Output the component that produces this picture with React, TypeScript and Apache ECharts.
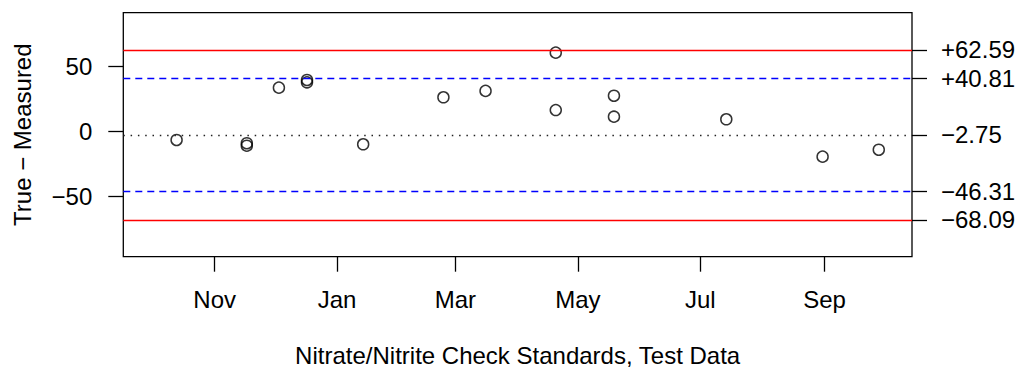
import React, { useEffect, useRef } from "react";
import * as echarts from "echarts";

const sampleDates = [
  "2010-10-13", "2010-11-17", "2010-11-17", "2010-12-03", "2010-12-17", "2010-12-17",
  "2011-01-14", "2011-02-23", "2011-03-16", "2011-04-20", "2011-04-20", "2011-05-19",
  "2011-05-19", "2011-07-14", "2011-08-31", "2011-09-28",
];
const differences = [
  -6.6, -9.1, -11.0, 33.6, 39.5, 37.7,
  -9.9, 26.2, 31.1, 60.5, 16.4, 27.4,
  11.3, 9.3, -19.4, -14.1,
];
const leftTicks = [-50, 0, 50];
const controlLimits = [62.59, -68.09];
const warningLimits = [40.81, -46.31];
const centerLine = -2.75;
const rightTicks = [62.59, 40.81, -2.75, -46.31, -68.09];
const monthTicks = ["2010-11-01", "2011-01-01", "2011-03-01", "2011-05-01", "2011-07-01", "2011-09-01"];
const monthNames = ["Jan", "Feb", "Mar", "Apr", "May", "Jun", "Jul", "Aug", "Sep", "Oct", "Nov", "Dec"];
const periodStart = "2010-10-01";
const periodEnd = "2011-09-30";
const yRange = [-96.3, 91.2];

const DAY = 86400000;
const toTs = (s: string) => {
  const [y, m, d] = s.split("-").map(Number);
  return Date.UTC(y, m - 1, d);
};
const dayOf = (s: string) => Math.round((toTs(s) - toTs(periodStart)) / DAY);
const minus = (s: string) => s.replace("-", "\u2212");

export default function App() {
  const ref = useRef<HTMLDivElement>(null);
  useEffect(() => {
    if (!ref.current) return;
    const chart = echarts.init(ref.current, undefined, { renderer: "svg" });
    const span = dayOf(periodEnd);
    const pad = span * 0.04;
    const tickDays = monthTicks.map(dayOf);
    const font = "'Liberation Sans', Arial, Helvetica, sans-serif";
    const fs = 24;
    const tickStyle = { color: "#000", width: 1.3 };
    const markData: any[] = [];
    controlLimits.forEach((v) =>
      markData.push({ yAxis: v, lineStyle: { color: "#ff0000", type: "solid", width: 1.3 } })
    );
    warningLimits.forEach((v) =>
      markData.push({ yAxis: v, lineStyle: { color: "#0000ff", type: [7, 5], width: 1.3 } })
    );
    markData.push({ yAxis: centerLine, lineStyle: { color: "#222", type: [1.5, 5.8], width: 1.3 } });

    chart.setOption({
      animation: false,
      textStyle: { fontFamily: font },
      grid: {
        left: 123.3,
        top: 12.7,
        width: 788.7,
        height: 244,
        show: true,
        borderColor: "#000",
        borderWidth: 1.3,
        backgroundColor: "transparent",
      },
      xAxis: {
        type: "value",
        min: -pad,
        max: span + pad,
        splitLine: { show: false },
        axisLine: { show: false, onZero: false },
        axisTick: {
          show: true,
          length: 15,
          lineStyle: tickStyle,
          customValues: tickDays,
        },
        axisLabel: {
          show: true,
          margin: 31,
          fontSize: fs,
          color: "#000",
          fontFamily: font,
          customValues: tickDays,
          formatter: (v: number) =>
            monthNames[new Date(toTs(periodStart) + v * DAY).getUTCMonth()],
        },
        name: "Nitrate/Nitrite Check Standards, Test Data",
        nameLocation: "middle",
        nameGap: 87,
        nameTextStyle: { fontSize: fs, color: "#000", fontFamily: font },
      },
      yAxis: [
        {
          type: "value",
          min: yRange[0],
          max: yRange[1],
          splitLine: { show: false },
          axisLine: { show: false, onZero: false },
          axisTick: { show: true, length: 15, lineStyle: tickStyle, customValues: leftTicks },
          axisLabel: {
            margin: 31,
            fontSize: fs,
            color: "#000",
            fontFamily: font,
            customValues: leftTicks,
            formatter: (v: number) => minus(String(v)),
          },
          name: "True \u2212 Measured",
          nameLocation: "middle",
          nameGap: 89,
          nameTextStyle: { fontSize: fs, color: "#000", fontFamily: font },
        },
        {
          type: "value",
          position: "right",
          min: yRange[0],
          max: yRange[1],
          splitLine: { show: false },
          axisLine: { show: false, onZero: false },
          axisTick: { show: true, length: 15, lineStyle: tickStyle, customValues: rightTicks },
          axisLabel: {
            margin: 29,
            fontSize: fs,
            color: "#000",
            fontFamily: font,
            customValues: rightTicks,
            formatter: (v: number) => (v > 0 ? "+" + v.toFixed(2) : "\u2212" + Math.abs(v).toFixed(2)),
          },
        },
      ],
      series: [
        {
          type: "scatter",
          yAxisIndex: 0,
          data: sampleDates.map((d, i) => [dayOf(d), differences[i]]),
          symbol: "circle",
          symbolSize: 11,
          itemStyle: { color: "rgba(0,0,0,0)", borderColor: "#000", borderWidth: 1.5 },
          emphasis: { disabled: true },
          z: 3,
          markLine: {
            silent: true,
            symbol: "none",
            label: { show: false },
            data: markData,
          },
        },
      ],
    });
    return () => chart.dispose();
  }, []);
  return (
    <div
      ref={ref}
      style={{ position: "fixed", left: 0, top: 0, width: 1021, height: 375, background: "#fff" }}
    />
  );
}
